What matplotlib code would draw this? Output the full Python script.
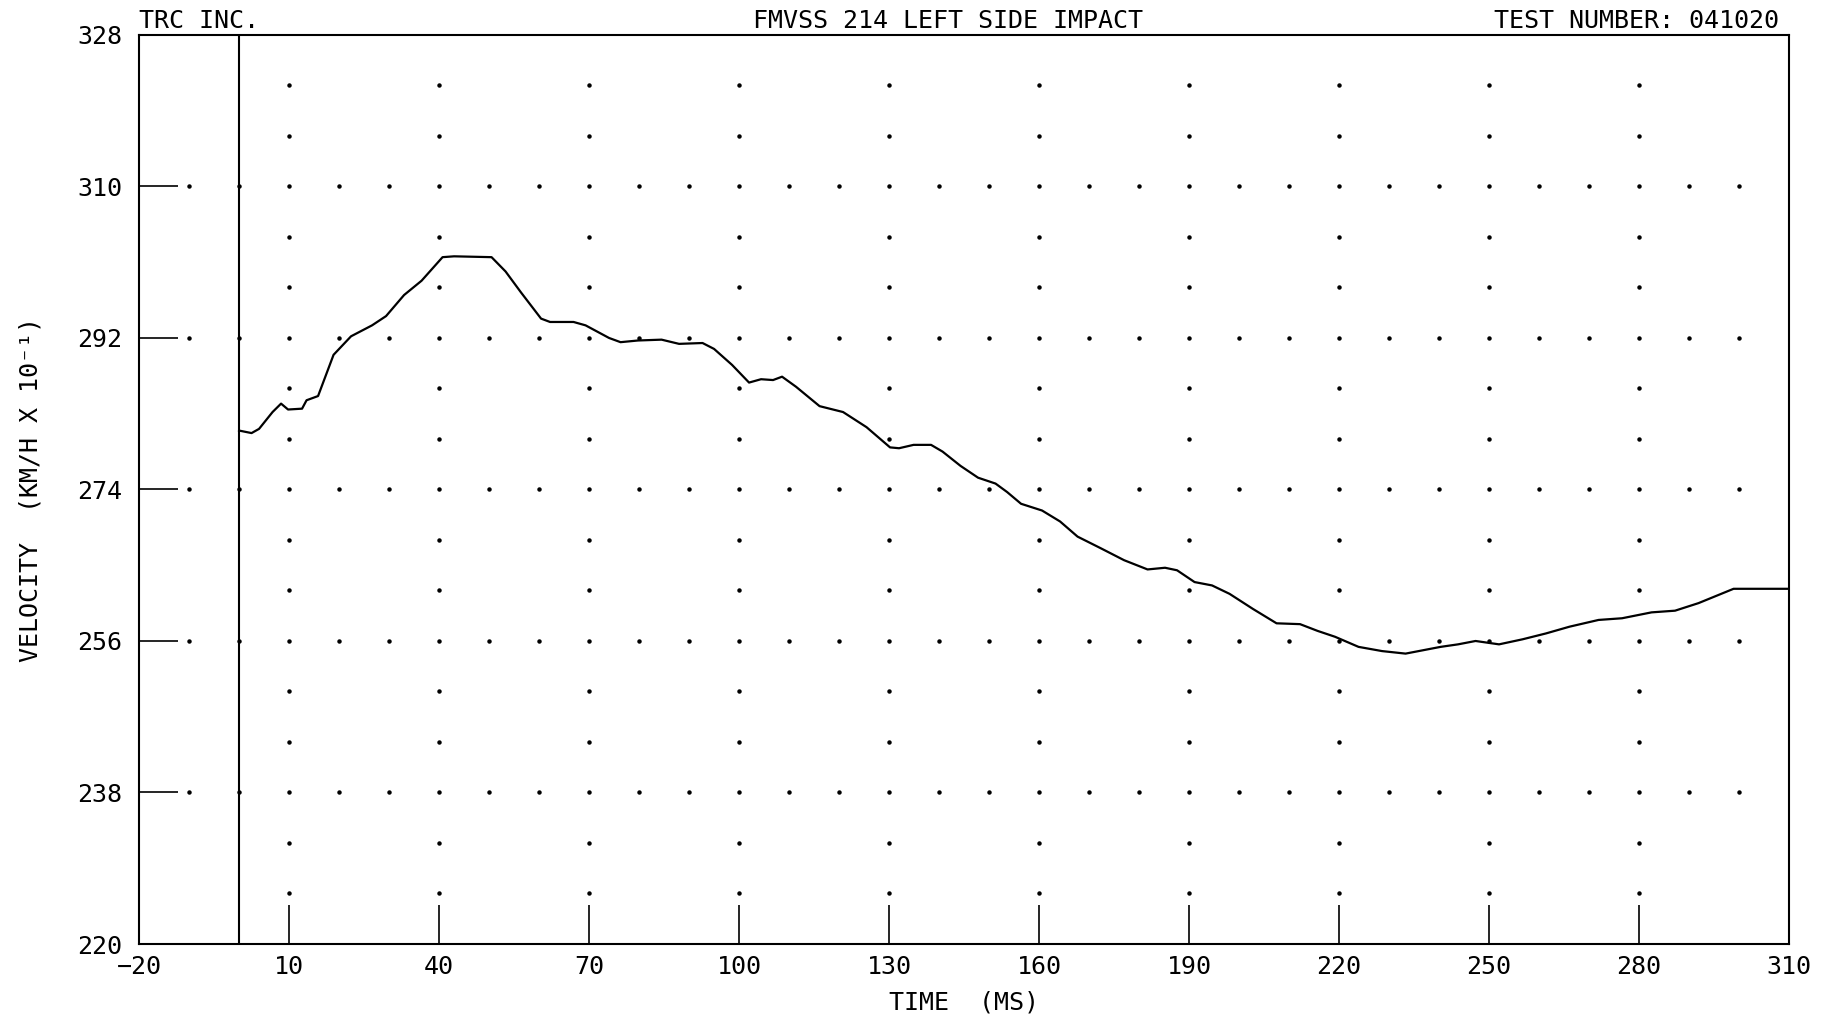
import numpy as np
import matplotlib
matplotlib.use('Agg')
import matplotlib.pyplot as plt

plt.rcParams['font.family'] = ['DejaVu Sans Mono', 'DejaVu Sans']

# velocity trace (time in ms, velocity in km/h x 10^-1)
time_ms = [0, 2.5, 4, 6.7, 8.4, 9.8, 12.6, 13.5, 15.8, 18.9, 22.4, 26.6, 29.4, 33, 36.5,
           40.7, 43, 50.5, 53.3, 56.4, 60.4, 62.2, 66.9, 69.3, 74, 76.3, 79.8, 84.5, 88,
           92.7, 95, 98.6, 102, 104.4, 106.8, 108.6, 111.4, 116.1, 120.8, 125.5, 130.2,
           132, 134.9, 138.4, 140.7, 144.3, 147.8, 151.3, 153.6, 156.4, 160.6, 164.2,
           167.7, 172.4, 177, 181.7, 185.2, 187.6, 191.1, 194.6, 198.1, 202.8, 207.5,
           212.2, 215.7, 219.2, 223.9, 228.6, 233.3, 236.8, 240.3, 243.8, 247.3, 252,
           256.7, 261.4, 266.1, 271.9, 276.6, 282.5, 287.2, 291.9, 298.9, 303.6, 310]
velocity = [281.0, 280.7, 281.2, 283.2, 284.2, 283.5, 283.6, 284.6, 285.1, 290.0, 292.2,
            293.5, 294.6, 297.1, 298.8, 301.6, 301.7, 301.6, 299.9, 297.4, 294.3, 293.9,
            293.9, 293.5, 292.0, 291.5, 291.7, 291.8, 291.3, 291.4, 290.7, 288.8, 286.7,
            287.1, 287.0, 287.4, 286.2, 283.9, 283.2, 281.4, 279.0, 278.9, 279.3, 279.3,
            278.5, 276.8, 275.4, 274.7, 273.7, 272.3, 271.5, 270.2, 268.4, 267.0, 265.6,
            264.5, 264.7, 264.4, 263.0, 262.6, 261.6, 259.8, 258.1, 258.0, 257.2, 256.5,
            255.3, 254.8, 254.5, 254.9, 255.3, 255.6, 256.0, 255.6, 256.2, 256.9, 257.7,
            258.5, 258.7, 259.4, 259.6, 260.5, 262.2, 262.2, 262.2]

x_ticks = [-20, 10, 40, 70, 100, 130, 160, 190, 220, 250, 280, 310]
y_ticks = [220, 238, 256, 274, 292, 310, 328]

FS = 18

fig = plt.figure(figsize=(18.37, 10.19), dpi=100)
ax = fig.add_axes([0.0757, 0.0736, 0.8982, 0.8921])
ax.set_xlim(-20, 310)
ax.set_ylim(220, 328)

# dotted grid: fine rows at labelled values, sparse rows in between
for yv in np.arange(226, 328, 6):
    if yv in y_ticks:
        xs = np.arange(-10, 301, 10)
    else:
        xs = np.arange(10, 281, 30)
    ax.plot(xs, np.full(len(xs), yv), linestyle='none', marker='o',
            markersize=2.2, color='black')

ax.axvline(0, color='black', lw=1.5)
ax.plot(time_ms, velocity, color='black', lw=1.6)

ax.set_xticks(x_ticks)
ax.set_yticks(y_ticks)
ax.tick_params(direction='in', length=28, width=1.2, labelsize=FS, pad=8)
ax.tick_params(axis='y', pad=12)
for s in ax.spines.values():
    s.set_linewidth(1.5)

ax.set_xlabel('TIME  (MS)', fontsize=FS, labelpad=8)
ax.set_ylabel('VELOCITY  (KM/H X 10⁻¹)', fontsize=FS, labelpad=25)

ax.text(0.0, 1.002, 'TRC INC.', transform=ax.transAxes, ha='left', va='bottom', fontsize=FS)
ax.text(0.49, 1.002, 'FMVSS 214 LEFT SIDE IMPACT', transform=ax.transAxes,
        ha='center', va='bottom', fontsize=FS)
ax.text(0.994, 1.002, 'TEST NUMBER: 041020', transform=ax.transAxes,
        ha='right', va='bottom', fontsize=FS)

fig.savefig('out.png', dpi=100)
